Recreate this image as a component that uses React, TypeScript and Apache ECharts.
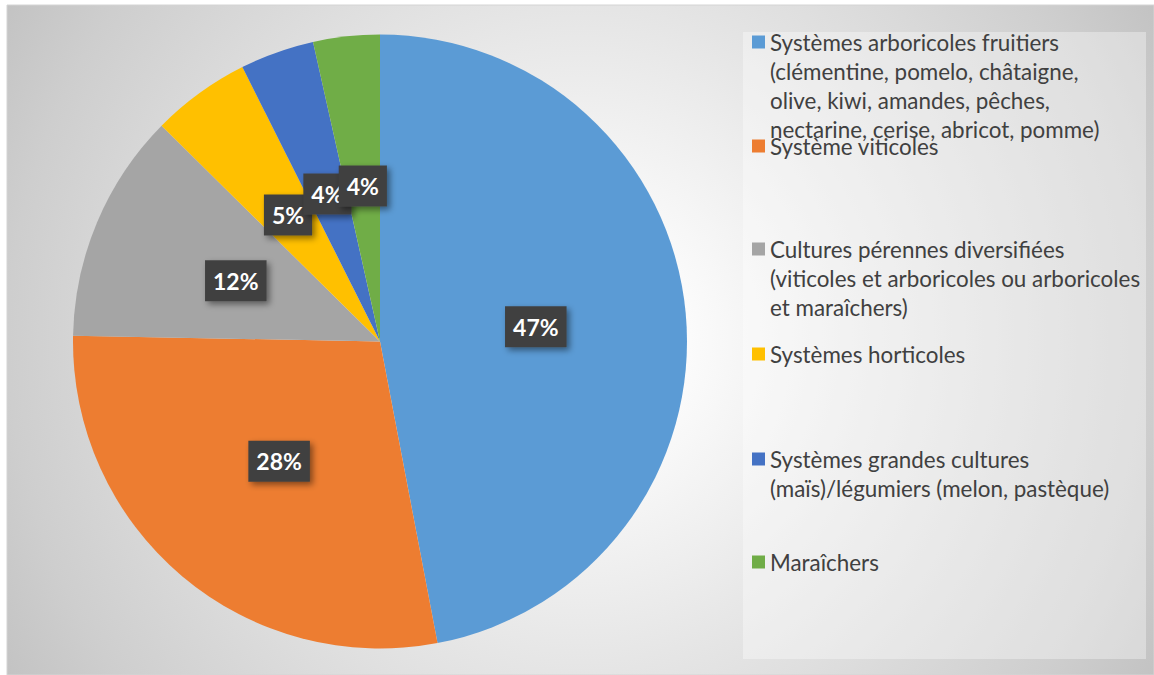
import React, { useEffect, useRef } from "react";
import * as echarts from "echarts";

const categories: string[] = [
  "Systèmes arboricoles fruitiers (clémentine, pomelo, châtaigne, olive, kiwi, amandes, pêches, nectarine, cerise, abricot, pomme)",
  "Système viticoles",
  "Cultures pérennes diversifiées (viticoles et arboricoles ou arboricoles et maraîchers)",
  "Systèmes horticoles",
  "Systèmes grandes cultures (maïs)/légumiers (melon, pastèque)",
  "Maraîchers",
];

const legendLines: string[][] = [
  [
    "Systèmes arboricoles fruitiers",
    "(clémentine, pomelo, châtaigne,",
    "olive, kiwi, amandes, pêches,",
    "nectarine, cerise, abricot, pomme)",
  ],
  ["Système viticoles"],
  [
    "Cultures pérennes diversifiées",
    "(viticoles et arboricoles ou arboricoles",
    "et maraîchers)",
  ],
  ["Systèmes horticoles"],
  ["Systèmes grandes cultures", "(maïs)/légumiers (melon, pastèque)"],
  ["Maraîchers"],
];

const values: number[] = [47.0, 28.3, 12.1, 5.2, 3.9, 3.5];

const colors: string[] = ["#5B9BD5", "#ED7D31", "#A5A5A5", "#FFC000", "#4472C4", "#70AD47"];

// layout: vertical centre of the first line of each legend entry
const legendFirstLineY: number[] = [42, 146, 249, 354, 459, 562];

const LINE_H = 29;
const FONT = "Lato, 'Open Sans', sans-serif";

export default function App() {
  const ref = useRef<HTMLDivElement>(null);

  useEffect(() => {
    if (!ref.current) return;
    const chart = echarts.init(ref.current, undefined, { renderer: "svg" });

    const legends = categories.map((name, i) => {
      const n = legendLines[i].length;
      const top = legendFirstLineY[i] - ((2 * n - 1) * LINE_H) / 2;
      return {
        data: [name],
        left: 752,
        top,
        padding: 0,
        orient: "vertical",
        icon: "rect",
        itemWidth: 13,
        itemHeight: 13,
        selectedMode: false,
        textStyle: {
          fontFamily: FONT,
          fontSize: 22.4,
          color: "#404040",
          lineHeight: LINE_H,
        },
        formatter: (nm: string) => {
          const idx = categories.indexOf(nm);
          const lines = legendLines[idx];
          const pad = new Array(lines.length - 1).fill("");
          return pad.concat(lines).join("\n");
        },
      };
    });

    chart.setOption({
      animation: false,
      backgroundColor: "#ffffff",
      color: colors,
      graphic: [
        {
          type: "rect",
          z: -10,
          silent: true,
          shape: { x: 7, y: 5, width: 1147, height: 670 },
          style: {
            fill: new echarts.graphic.RadialGradient(
              580,
              340,
              664,
              [
                { offset: 0, color: "#ffffff" },
                { offset: 0.15, color: "#fcfcfc" },
                { offset: 0.5, color: "#e5e5e5" },
                { offset: 0.86, color: "#cecece" },
                { offset: 1, color: "#c3c3c3" },
              ],
              true
            ),
            stroke: "#d4d4d4",
            lineWidth: 1,
          },
        },
        {
          type: "rect",
          z: -9,
          silent: true,
          shape: { x: 743, y: 32, width: 403, height: 627 },
          style: { fill: "rgba(255,255,255,0.35)" },
        },
      ],
      legend: legends,
      series: [
        {
          type: "pie",
          center: [380, 341.5],
          radius: 307,
          startAngle: 90,
          clockwise: true,
          avoidLabelOverlap: false,
          silent: true,
          emphasis: { disabled: true },
          labelLayout: { hideOverlap: false },
          itemStyle: { borderWidth: 0 },
          label: {
            show: true,
            position: "inside",
            formatter: (p: any) => `${Math.round(p.value)}%`,
            color: "#ffffff",
            fontFamily: FONT,
            fontWeight: "bold",
            fontSize: 23,
            lineHeight: 24,
            backgroundColor: "#404040",
            padding: [8, 8, 9, 8],
            shadowBlur: 6,
            shadowColor: "rgba(0,0,0,0.45)",
            shadowOffsetX: 3,
            shadowOffsetY: 3,
          },
          labelLine: { show: false },
          data: categories.map((name, i) => ({ name, value: values[i] })),
        },
      ],
    });

    return () => chart.dispose();
  }, []);

  return (
    <div
      ref={ref}
      style={{ position: "absolute", left: 0, top: 0, width: 1154, height: 675 }}
    />
  );
}
